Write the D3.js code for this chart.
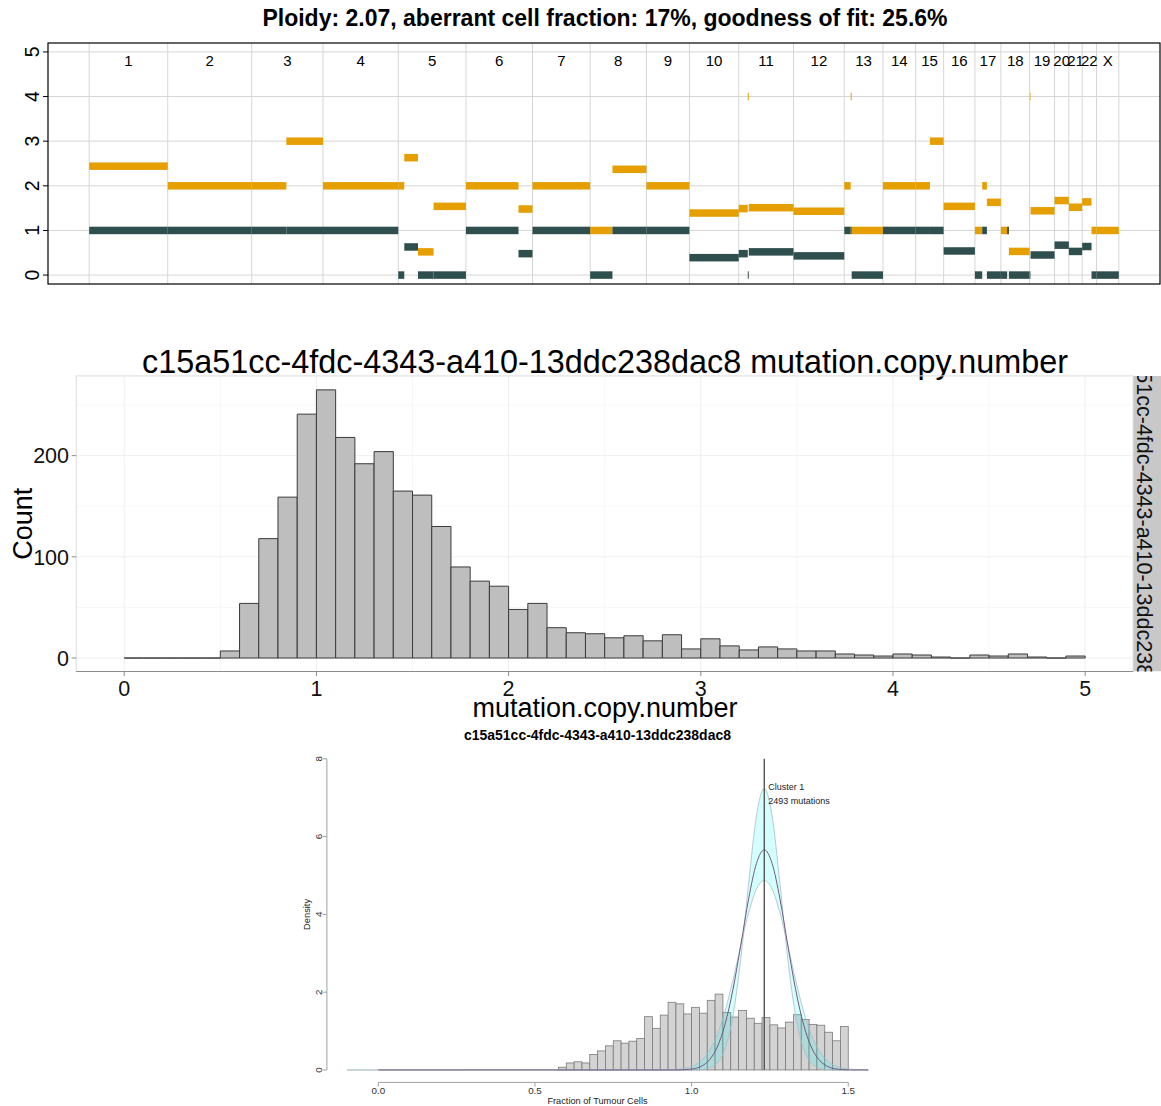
<!DOCTYPE html>
<html>
<head>
<meta charset="utf-8">
<script src="https://cdn.jsdelivr.net/npm/d3@7"></script>
<style>
  body { margin: 0; background: #fff; }
  svg { display: block; }
  text { font-family: "Liberation Sans", Arial, Helvetica, sans-serif; }
</style>
</head>
<body>
<svg id="fig" width="1161" height="1106"></svg>
<script>
// ---------- Panel 1: allele-specific copy-number segments ----------
const ascatTitle = "Ploidy: 2.07, aberrant cell fraction: 17%, goodness of fit: 25.6%";
const chromNames = ["1","2","3","4","5","6","7","8","9","10","11","12","13","14","15","16","17","18","19","20","21","22","X"];
// probes per chromosome (thousands), genome order
const chromLengths = [78.6, 84.0, 71.4, 75.3, 67.7, 66.6, 57.7, 56.3, 43.0, 49.4, 54.8, 50.8, 38.7, 32.7, 28.0, 31.3, 26.0, 28.7, 25.0, 14.3, 13.3, 14.4, 22.3];
// segments on the concatenated probe axis
const segStart = [0, 78.6, 162.6, 197.3, 234, 309.3, 315.3, 329, 344.6, 377,
                  429.6, 443.6, 501.3, 523.6, 557.6, 600.6, 650, 659, 660, 704.8,
                  755.6, 762, 763, 794.3, 827, 841.3, 855, 886.3, 893.6, 898.3,
                  912.3, 918.6, 920.3, 941.3, 942, 966, 980.3, 993.6, 1003, 1008];
const segEnd   = [78.6, 162.6, 197.3, 234, 309.3, 315.3, 329, 344.6, 377, 429.6,
                  443.6, 501.3, 523.6, 557.6, 600.6, 650, 659, 660, 704.8, 755.6,
                  762, 763, 794.3, 827, 841.3, 855, 886.3, 893.6, 898.3, 912.3,
                  918.6, 920.3, 941, 941.8, 966, 980.3, 993.6, 1003, 1008, 1030.3];
const segMajor = [2.44, 2, 2, 3, 2, 2, 2.63, 0.52, 1.54, 2,
                  1.48, 2, 1, 2.37, 2, 1.39, 1.49, 4, 1.51, 1.43,
                  2, 4, 1, 2, 2, 3, 1.54, 1, 2, 1.63,
                  1, 1, 0.53, 4, 1.44, 1.67, 1.52, 1.64, 1, 1];
const segMinor = [1, 1, 1, 1, 1, 0, 0.63, 0, 0, 1,
                  0.48, 1, 0, 1, 1, 0.39, 0.48, 0, 0.52, 0.43,
                  1, 1, 0, 1, 1, 1, 0.54, 0, 1, 0,
                  0, 1, 0, 0, 0.45, 0.67, 0.53, 0.64, 0, 0];
const cnTicks = [0, 1, 2, 3, 4, 5];

// ---------- Panel 2: mutation copy number histogram ----------
const sampleId = "c15a51cc-4fdc-4343-a410-13ddc238dac8";
const mcnBinStart = 0;
const mcnBinWidth = 0.1;
const mcnCounts = [0, 0, 0, 0, 0, 7, 54, 118, 159, 241,
                   265, 218, 192, 204, 165, 161, 130, 90, 76, 71,
                   48, 54, 30, 25, 24, 20, 22, 17, 23, 9,
                   19, 12, 8, 11, 9, 7, 7, 4, 3, 2,
                   4, 3, 1, 0, 3, 2, 4, 1, 0, 2];
const mcnXTicks = [0, 1, 2, 3, 4, 5];
const mcnYTicks = [0, 100, 200];

// ---------- Panel 3: cancer cell fraction with fitted cluster ----------
const ccfBinStart = 0.575;
const ccfBinWidth = 0.025;
const ccfDensity = [0.07, 0.18, 0.21, 0.18, 0.40, 0.49, 0.62, 0.75, 0.69, 0.74,
                    0.81, 1.37, 1.07, 1.41, 1.74, 1.70, 1.44, 1.61, 1.46, 1.79,
                    1.95, 1.48, 1.36, 1.53, 1.33, 1.20, 1.35, 1.16, 1.08, 1.23,
                    1.42, 1.30, 1.17, 1.15, 0.97, 0.75, 1.12];
const fitX = [-0.1, 0.0,
              0.932, 0.957, 0.982, 1.007, 1.032, 1.057, 1.082, 1.107, 1.132, 1.157, 1.182, 1.207,
              1.232,
              1.257, 1.282, 1.307, 1.332, 1.357, 1.382, 1.407, 1.432, 1.457, 1.482, 1.507, 1.532,
              1.564];
const fitMean  = [0, 0,
                  0, 0, 0.01, 0.03, 0.10, 0.26, 0.59, 1.18, 2.07, 3.21, 4.40, 5.31,
                  5.66,
                  5.31, 4.40, 3.21, 2.07, 1.18, 0.59, 0.26, 0.10, 0.03, 0.01, 0, 0,
                  0];
const fitLower = [0, 0,
                  0.01, 0.02, 0.05, 0.11, 0.25, 0.50, 0.91, 1.52, 2.31, 3.21, 4.04, 4.65,
                  4.87,
                  4.65, 4.04, 3.21, 2.31, 1.52, 0.91, 0.50, 0.25, 0.11, 0.05, 0.02, 0.01,
                  0];
const fitUpper = [0, 0,
                  0, 0, 0, 0, 0.01, 0.05, 0.18, 0.55, 1.39, 2.86, 4.79, 6.53,
                  7.24,
                  6.53, 4.79, 2.86, 1.39, 0.55, 0.18, 0.05, 0.01, 0, 0, 0, 0,
                  0];
const clusterLocation = 1.232;
const clusterSize = 2493;
const ccfXTicks = [0, 0.5, 1.0, 1.5];
const ccfYTicks = [0, 2, 4, 6, 8];

// ------------------------------------------------------------------
const svg = d3.select("#fig");

function fitWidth(sel, w) {
  const fs = parseFloat(sel.attr("font-size"));
  const len = sel.node().getComputedTextLength();
  if (len > 0) sel.attr("font-size", (fs * w / len).toFixed(2));
  return sel;
}

// ===== Panel 1 =====
(function () {
  const L = 48, R = 1160, T = 43, B = 284;
  const chromEnds = d3.cumsum(chromLengths);
  const total = chromEnds[chromEnds.length - 1];
  const chromStarts = [0, ...Array.from(chromEnds).slice(0, -1)];
  const x = d3.scaleLinear([-0.04 * total, 1.04 * total], [L, R]);
  const y = d3.scaleLinear([-0.2, 5.2], [B, T]);
  const g = svg.append("g");

  fitWidth(g.append("text")
    .attr("x", 605).attr("y", 26)
    .attr("text-anchor", "middle")
    .attr("font-weight", "bold")
    .attr("font-size", 20)
    .text(ascatTitle), 685);

  // grid
  g.selectAll("line.h").data(cnTicks).join("line")
    .attr("x1", L).attr("x2", R)
    .attr("y1", d => y(d)).attr("y2", d => y(d))
    .attr("stroke", "#d6d6d6").attr("stroke-width", 1);
  g.selectAll("line.v").data([...chromStarts, total]).join("line")
    .attr("x1", d => x(d)).attr("x2", d => x(d))
    .attr("y1", T).attr("y2", B)
    .attr("stroke", "#d6d6d6").attr("stroke-width", 1);

  const idx = d3.range(segStart.length);
  const barH = 7.5;
  g.append("g").selectAll("rect").data(idx).join("rect")
    .attr("x", i => x(segStart[i]))
    .attr("width", i => Math.max(0.6, x(segEnd[i]) - x(segStart[i])))
    .attr("y", i => y(segMajor[i]) - barH / 2)
    .attr("height", barH)
    .attr("fill", "#E69F00");
  g.append("g").selectAll("rect").data(idx).join("rect")
    .attr("x", i => x(segStart[i]))
    .attr("width", i => Math.max(0.6, x(segEnd[i]) - x(segStart[i])))
    .attr("y", i => y(segMinor[i]) - barH / 2)
    .attr("height", barH)
    .attr("fill", "#2F4F4F");

  // chromosome names
  g.selectAll("text.chr").data(chromNames).join("text")
    .attr("x", (d, i) => x(chromStarts[i] + chromLengths[i] / 2))
    .attr("y", 66)
    .attr("text-anchor", "middle")
    .attr("font-size", 15)
    .text(d => d);

  // frame
  g.append("rect").attr("x", L).attr("y", T).attr("width", R - L).attr("height", B - T)
    .attr("fill", "none").attr("stroke", "#000").attr("stroke-width", 1.2);

  // y axis
  const ya = g.append("g");
  ya.selectAll("line").data(cnTicks).join("line")
    .attr("x1", L - 5).attr("x2", L)
    .attr("y1", d => y(d)).attr("y2", d => y(d))
    .attr("stroke", "#000");
  ya.selectAll("text").data(cnTicks).join("text")
    .attr("transform", d => `translate(38.5,${y(d)}) rotate(-90)`)
    .attr("text-anchor", "middle")
    .attr("font-size", 19.5)
    .text(d => d);
})();

// ===== Panel 2 =====
(function () {
  const L = 76.2, R = 1133.2, T = 375.9, B = 671.5;
  const x = d3.scaleLinear([-0.25, 5.25], [L, R]);
  const y = d3.scaleLinear([-13.3, 278.8], [B, T]);
  const g = svg.append("g");

  fitWidth(g.append("text")
    .attr("x", 605).attr("y", 373)
    .attr("text-anchor", "middle")
    .attr("font-size", 32)
    .text(sampleId + " mutation.copy.number"), 926);

  // grid
  const minorX = d3.range(0.5, 5, 1);
  const minorY = [50, 150, 250];
  g.selectAll("line.mx").data(minorX).join("line")
    .attr("x1", d => x(d)).attr("x2", d => x(d)).attr("y1", T).attr("y2", B)
    .attr("stroke", "#f7f7f7");
  g.selectAll("line.my").data(minorY).join("line")
    .attr("x1", L).attr("x2", R).attr("y1", d => y(d)).attr("y2", d => y(d))
    .attr("stroke", "#f7f7f7");
  g.selectAll("line.gx").data(mcnXTicks).join("line")
    .attr("x1", d => x(d)).attr("x2", d => x(d)).attr("y1", T).attr("y2", B)
    .attr("stroke", "#efefef");
  g.selectAll("line.gy").data(mcnYTicks).join("line")
    .attr("x1", L).attr("x2", R).attr("y1", d => y(d)).attr("y2", d => y(d))
    .attr("stroke", "#efefef");

  // bars
  g.append("g").selectAll("path").data(mcnCounts).join("path")
    .attr("d", (c, i) => {
      const x0 = x(mcnBinStart + i * mcnBinWidth), x1 = x(mcnBinStart + (i + 1) * mcnBinWidth);
      const y0 = y(0), y1 = y(c);
      return `M${x0},${y0}V${y1}H${x1}V${y0}Z`;
    })
    .attr("fill", "#bebebe")
    .attr("stroke", "#3a3a3a")
    .attr("stroke-width", 1);

  // panel border and axis
  g.append("rect").attr("x", L).attr("y", T).attr("width", R - L).attr("height", B - T)
    .attr("fill", "none").attr("stroke", "#dcdcdc");
  g.append("line").attr("x1", L).attr("x2", R).attr("y1", B).attr("y2", B)
    .attr("stroke", "#8c8c8c");

  g.selectAll("line.tx").data(mcnXTicks).join("line")
    .attr("x1", d => x(d)).attr("x2", d => x(d)).attr("y1", B).attr("y2", B + 4.5)
    .attr("stroke", "#8c8c8c");
  g.selectAll("text.tx").data(mcnXTicks).join("text")
    .attr("x", d => x(d)).attr("y", 695.5)
    .attr("text-anchor", "middle").attr("font-size", 21.5).attr("fill", "#111")
    .text(d => d);
  g.selectAll("line.ty").data(mcnYTicks).join("line")
    .attr("x1", L - 4.5).attr("x2", L).attr("y1", d => y(d)).attr("y2", d => y(d))
    .attr("stroke", "#8c8c8c");
  g.selectAll("text.ty").data(mcnYTicks).join("text")
    .attr("x", 69).attr("y", d => y(d) + 7.7)
    .attr("text-anchor", "end").attr("font-size", 21.5).attr("fill", "#111")
    .text(d => d);

  g.append("text")
    .attr("x", 605).attr("y", 717)
    .attr("text-anchor", "middle").attr("font-size", 27)
    .text("mutation.copy.number");
  g.append("text")
    .attr("transform", `translate(32,${(T + B) / 2}) rotate(-90)`)
    .attr("text-anchor", "middle").attr("font-size", 27)
    .text("Count");

  // facet strip
  svg.append("defs").append("clipPath").attr("id", "stripClip")
    .append("rect").attr("x", R).attr("y", T).attr("width", 40).attr("height", B - T);
  const strip = g.append("g").attr("clip-path", "url(#stripClip)");
  strip.append("rect").attr("x", R).attr("y", T).attr("width", 40).attr("height", B - T)
    .attr("fill", "#c8c8c8");
  strip.append("text")
    .attr("transform", `translate(1136.5,${(T + B) / 2}) rotate(90)`)
    .attr("text-anchor", "middle").attr("font-size", 21.5).attr("fill", "#111")
    .text(sampleId);
})();

// ===== Panel 3 =====
(function () {
  const x = d3.scaleLinear([-0.164, 1.564], [326.9, 868.3]);
  const y = d3.scaleLinear([-0.32, 8.32], [1082.4, 746.4]);
  const g = svg.append("g");

  fitWidth(g.append("text")
    .attr("x", 597.5).attr("y", 740)
    .attr("text-anchor", "middle").attr("font-weight", "bold").attr("font-size", 14)
    .text(sampleId), 267);

  // histogram
  g.append("g").selectAll("rect").data(ccfDensity).join("rect")
    .attr("x", (d, i) => x(ccfBinStart + i * ccfBinWidth))
    .attr("width", (d, i) => x(ccfBinStart + (i + 1) * ccfBinWidth) - x(ccfBinStart + i * ccfBinWidth))
    .attr("y", d => y(d))
    .attr("height", d => y(0) - y(d))
    .attr("fill", "#d3d3d3")
    .attr("stroke", "#7a7a7a")
    .attr("stroke-width", 0.8);

  const idx = d3.range(fitX.length);
  // credible band
  g.append("path")
    .attr("d", d3.area().x(i => x(fitX[i])).y0(i => y(fitLower[i])).y1(i => y(fitUpper[i]))
      .curve(d3.curveMonotoneX)(idx))
    .attr("fill", "#00ffff").attr("fill-opacity", 0.17);
  [fitLower, fitUpper].forEach(arr => {
    g.append("path")
      .attr("d", d3.line().x(i => x(fitX[i])).y(i => y(arr[i])).curve(d3.curveMonotoneX)(idx))
      .attr("fill", "none").attr("stroke", "#a9bcc4").attr("stroke-width", 0.8);
  });
  // posterior mean density
  g.append("path")
    .attr("d", d3.line().defined(i => fitX[i] >= 0)
      .x(i => x(fitX[i])).y(i => y(fitMean[i])).curve(d3.curveMonotoneX)(idx))
    .attr("fill", "none").attr("stroke", "#745a82").attr("stroke-width", 1);

  // cluster location
  g.append("line")
    .attr("x1", x(clusterLocation)).attr("x2", x(clusterLocation))
    .attr("y1", y(8)).attr("y2", y(0))
    .attr("stroke", "#555").attr("stroke-width", 1.4);
  g.append("text").attr("x", x(clusterLocation) + 4).attr("y", 789.5)
    .attr("font-size", 9).attr("fill", "#222").text("Cluster 1");
  g.append("text").attr("x", x(clusterLocation) + 4).attr("y", 804)
    .attr("font-size", 9).attr("fill", "#222").text(clusterSize + " mutations");

  // axes
  const axCol = "#a0a0a0";
  g.append("line").attr("x1", x(0)).attr("x2", x(1.5)).attr("y1", 1082.4).attr("y2", 1082.4)
    .attr("stroke", axCol);
  g.selectAll("line.tx").data(ccfXTicks).join("line")
    .attr("x1", d => x(d)).attr("x2", d => x(d)).attr("y1", 1082.4).attr("y2", 1086.6)
    .attr("stroke", axCol);
  g.selectAll("text.tx").data(ccfXTicks).join("text")
    .attr("x", d => x(d)).attr("y", 1094.3)
    .attr("text-anchor", "middle").attr("font-size", 9.8).attr("fill", "#333")
    .text(d => d3.format(".1f")(d));
  g.append("line").attr("x1", 326.9).attr("x2", 326.9).attr("y1", y(0)).attr("y2", y(8))
    .attr("stroke", axCol);
  g.selectAll("line.ty").data(ccfYTicks).join("line")
    .attr("x1", 322.7).attr("x2", 326.9).attr("y1", d => y(d)).attr("y2", d => y(d))
    .attr("stroke", axCol);
  g.selectAll("text.ty").data(ccfYTicks).join("text")
    .attr("transform", d => `translate(322.3,${y(d)}) rotate(-90)`)
    .attr("text-anchor", "middle").attr("font-size", 9.8).attr("fill", "#333")
    .text(d => d);
  g.append("text")
    .attr("transform", `translate(309.5,${y(4)}) rotate(-90)`)
    .attr("text-anchor", "middle").attr("font-size", 9.3).attr("fill", "#222")
    .text("Density");
  g.append("text")
    .attr("x", 597.5).attr("y", 1103.5)
    .attr("text-anchor", "middle").attr("font-size", 9.2).attr("fill", "#222")
    .text("Fraction of Tumour Cells");
})();
</script>
</body>
</html>
